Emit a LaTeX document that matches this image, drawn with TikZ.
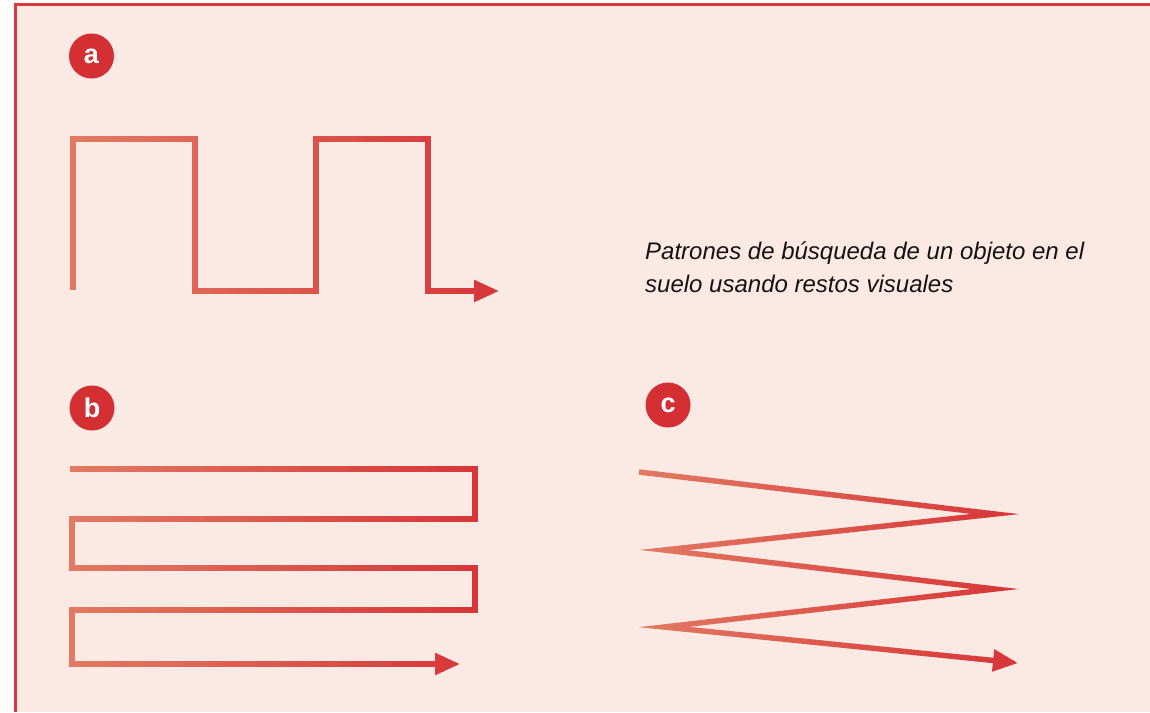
\documentclass[tikz,border=0pt]{standalone}
\usepackage{fontspec}
\setmainfont{Liberation Sans}
\usetikzlibrary{arrows.meta}

\definecolor{paper}{HTML}{FBE9E3}
\definecolor{frame}{HTML}{D9373D}
\definecolor{inklight}{HTML}{E27A63}
\definecolor{inkdark}{HTML}{D73538}
\definecolor{badgered}{HTML}{D43034}
\definecolor{caption}{HTML}{141414}

% Stroke a path with a left-to-right colour ramp (#1 = ramp start x, #2 = ramp end x,
% #3 = extra draw options, #4 = the path itself), built from thin clipped strips.
\newcommand\rampstroke[4]{%
  \foreach \k in {0,...,59}{%
    \pgfmathsetmacro\xa{\k==0 ? 0 : #1+(#2-#1)/60*\k}%
    \pgfmathsetmacro\xb{\k==59 ? 1150 : #1+(#2-#1)/60*(\k+1)+0.7}%
    \pgfmathsetmacro\pc{100/60*(\k+0.5)}%
    \begin{scope}
      \clip (\xa,0) rectangle (\xb,712);
      \draw[route,#3,color=inkdark!\pc!inklight] #4;
    \end{scope}
  }}

\tikzset{
  route/.style={line width=5.4pt, line join=miter, line cap=butt},
  headed/.style={-{Triangle[length=25pt,width=21pt]}},
  badge/.style={circle, fill=badgered, minimum size=45pt, inner sep=0pt,
    text=white, font=\fontsize{27}{27}\selectfont\bfseries},
}

\begin{document}
\begin{tikzpicture}[x=1pt, y=-1pt]
  \useasboundingbox (0,0) rectangle (1150,712);

  % panel
  \fill[paper] (15,4) rectangle (1150,712);
  \draw[frame, line width=3pt] (15,712) -- (15,4) -- (1150,4);

  % badges
  \node[badge] (ba) at (91.5,56) {a};
  \node[badge] (bb) at (92,408) {b};
  \node[badge] (bc) at (668,405) {c};

  % caption (anchored at the baseline of its last line)
  \node[anchor=base west, align=left, inner sep=0pt, text=caption,
        font=\fontsize{24}{33}\selectfont\itshape] (cap) at (645,292)
    {Patrones de búsqueda de un objeto en el\\suelo usando restos visuales};

  % (a) square-wave sweep
  \coordinate (a0) at (73,290);
  \coordinate (a1) at (73,139);
  \coordinate (a2) at (195,139);
  \coordinate (a3) at (195,291);
  \coordinate (a4) at (316,291);
  \coordinate (a5) at (316,139);
  \coordinate (a6) at (428,139);
  \coordinate (a7) at (428,291);
  \coordinate (a8) at (499,291);
  \rampstroke{71}{499}{headed}{(a0) -- (a1) -- (a2) -- (a3) -- (a4) -- (a5) -- (a6) -- (a7) -- (a8)}

  % (b) parallel back-and-forth sweep
  \coordinate (b0) at (70,469);
  \coordinate (b1) at (475,469);
  \coordinate (b2) at (475,519);
  \coordinate (b3) at (72,519);
  \coordinate (b4) at (72,568);
  \coordinate (b5) at (475,568);
  \coordinate (b6) at (475,610);
  \coordinate (b7) at (72,610);
  \coordinate (b8) at (72,664);
  \coordinate (b9) at (460,664);
  \rampstroke{70}{477}{headed}{(b0) -- (b1) -- (b2) -- (b3) -- (b4) -- (b5) -- (b6) -- (b7) -- (b8) -- (b9)}

  % (c) zigzag sweep (mitred points reach about x = 639 and x = 1020)
  \coordinate (c0) at (639,472);
  \coordinate (c1) at (995,514);
  \coordinate (c2) at (664,550);
  \coordinate (c3) at (995,589);
  \coordinate (c4) at (664,627);
  \coordinate (c5) at (1018,663);
  \rampstroke{637}{1020}{headed}{(c0) -- (c1) -- (c2) -- (c3) -- (c4) -- (c5)}
\end{tikzpicture}
\end{document}
